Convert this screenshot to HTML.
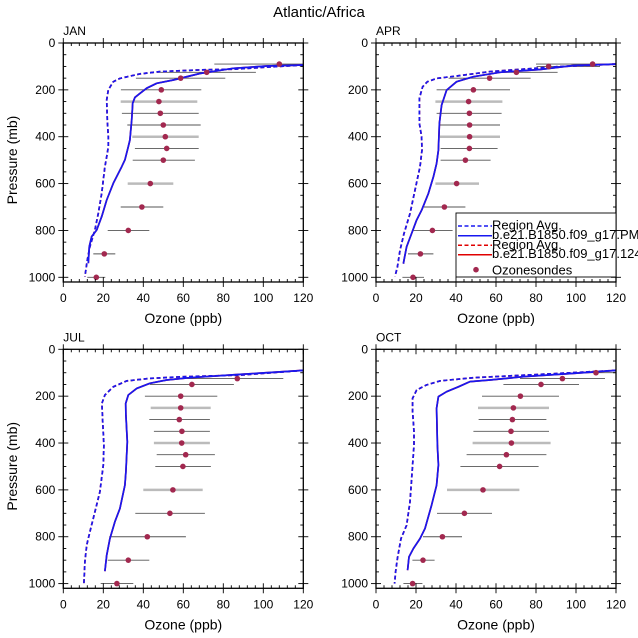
<!DOCTYPE html>
<html><head><meta charset="utf-8"><style>
body{margin:0;background:#fff}
svg{display:block;font-family:"Liberation Sans",sans-serif}
</style></head><body>
<svg id="c" width="638" height="638" viewBox="0 0 638 638">
<text x="319" y="17" text-anchor="middle" font-size="15">Atlantic/Africa</text>
</svg>
<script>
const months=["JAN","APR","JUL","OCT"];
const obsP=[[90,125,150,200,250,300,350,400,450,500,600,700,800,900,1000],[90,100,125,150,200,250,300,350,400,450,500,600,700,800,900,1000],[125,150,200,250,300,350,400,450,500,600,700,800,900,1000],[100,125,150,200,250,300,350,400,450,500,600,700,800,900,1000]];
const obsV=[[108,71.7,58.7,49,47.8,48.5,50,51,51.7,50,43.5,39.3,32.5,20.5,16.5],[108.3,86.3,70.2,56.8,48.7,46.3,46.7,46.8,46.8,46.7,44.7,40.3,34.2,28.2,22.2,18.5],[87,64.3,58.7,58.7,58,59.3,59.2,61.2,59.8,54.8,53.3,42,32.5,26.8],[110,93.2,82.5,72.2,68.7,68.2,67.5,67.7,65.2,61.8,53.5,44.2,33.2,23.5,18.3]];
const obsLo=[[75.5,47,36.3,28.8,28.7,29.3,32,34.5,35.8,34.7,32.2,28.7,22.2,15,12],[80,80.3,62,36.3,30.3,29.7,30.3,32,32,32.3,32.3,29.7,24,18.3,16,13.2],[62,43.3,40.8,43.7,43,45.3,45.3,46.7,46,40,36,23,22.2,18.7],[98.7,72,63.7,53,51,51.3,48.7,48.3,45.3,42.2,35.5,30.5,23.5,18.2,13.7]];
const obsHi=[[120,96.3,81,69,67,67.7,68.7,67.7,67.7,65.8,55,50,43,26,21],[120,112,90.8,77.3,67,63.2,62.8,62,62,60.8,57.3,51.5,44.7,38.3,28.7,24],[110,85.3,77,73.7,73.3,73.3,73.3,75.8,73.8,69.7,70.8,61.3,43,35],[120,114.5,101.5,91.5,86.5,85.2,86.5,87.3,85.2,81.3,71.7,58,43,29.3,23.2]];
const solidP=[[94,98,108,130,158,172,193,215,232,257,329,414,442,499,528,599,670,741,798,826,869,940],[90,96,113,125,144,165,201,265,343,457,514,571,642,714,756,813,870,927,942],[90,107,121,131,145,167,195,231,281,395,523,580,680,736,808,879,947],[90,103,117,131,138,160,181,202,252,409,494,580,665,765,808,850,886,943]];
const solidV=[[120,101.7,85,68.3,55,46.7,41.7,38.3,35.8,34.7,34.2,33.3,32.5,30.8,29.2,25,21.7,19.2,16.7,14.2,13,12.5],[120,98.7,82,62,48.7,40.3,35.3,32.8,31.7,31.2,30.3,28.7,26.2,22.8,20.3,17.8,15.3,14,13.7],[120,88.3,63.3,51.7,43.3,36.7,32.5,31.2,31.3,32,31.3,30.8,28.3,25.8,23.3,21.7,20.8],[120,98.7,73.7,57,47,41.2,35.3,31.2,30.3,30.7,31.2,30.3,27.8,24.5,22,18.7,16.5,15.8]];
const dashP=[[94,112,115,122,132,151,165,200,243,329,400,442,471,528,641,727,798,869,926,997],[90,101,122,141,151,165,187,236,343,400,457,528,628,728,813,885,956,996],[90,110,117,124,135,160,195,231,309,409,494,608,694,779,836,907,1000],[90,107,121,135,152,174,209,266,352,409,651,751,808,893,950,1000]];
const dashV=[[120,85,68.3,48.3,38.3,28.3,25,22.5,21.7,22,22.5,22.5,22,20.8,19.2,17.5,15.8,13.3,12,10.8],[120,90.3,57,40.3,30.3,25.7,23.3,21.7,21.7,22.8,23,22,19.5,17,14,12,10.7,9.5],[120,88.3,60,43.3,31.7,25,20.8,19.3,19.7,20.3,20,18.3,15.8,13.3,11.7,10.8,10.3],[120,82,48.7,32,25.3,20.3,18.3,18.3,19,19,17,15.3,12.5,10.7,9.8,9.3]];
const xTicks=[0,20,40,60,80,100,120];
const yTicks=[0,200,400,600,800,1000];
const grayP=[250,400,600];
const NS="http://www.w3.org/2000/svg";
const svg=document.getElementById('c');
function mk(t,a,p){const e=document.createElementNS(NS,t);for(const k in a)e.setAttribute(k,a[k]);(p||svg).appendChild(e);return e;}
const origins=[[63.3,43],[376,43],[63.3,349.3],[376,349.3]];
const W=240,H=234.3;
months.forEach((m,i)=>{
  const [ox,oy]=origins[i];
  const sx=v=>ox+v/120*W, sy=p=>oy+p/1000*H;
  const bottom=sy(1020);
  const g=mk('g',{});
  
  
  const cp=mk('clipPath',{id:'cl'+i},g);mk('rect',{x:ox,y:oy,width:W,height:bottom-oy},cp);
  const t=mk('text',{x:ox,y:oy-8,'font-size':12},g);t.textContent=m;
  
  obsP[i].forEach((p,j)=>{
    const gray=grayP.includes(p);
    const l=mk('line',{x1:sx(obsLo[i][j]),x2:sx(obsHi[i][j]),y1:sy(p),y2:sy(p),stroke:gray?'#bbb':'#555','stroke-width':gray?2.5:0.9,'clip-path':'url(#cl'+i+')'},g);
    
  });
  const path=(P,V)=>P.map((p,k)=>(k?'L':'M')+sx(V[k]).toFixed(1)+','+sy(p).toFixed(1)).join('');
  [['#e00000','4,2.5',dashP,dashV,'red-dashed-line'],['#e00000','',solidP,solidV,'red-solid-line'],['#1818f0','4,2.5',dashP,dashV,'blue-dashed-line'],['#1818f0','',solidP,solidV,'blue-solid-line']].forEach(s=>{
    const e=mk('path',{d:path(s[2][i],s[3][i]),fill:'none',stroke:s[0],'stroke-width':1.7,'stroke-linejoin':'round','stroke-dasharray':s[1],'clip-path':'url(#cl'+i+')'},g);
    
  });
  obsP[i].forEach((p,j)=>{
    const c=mk('circle',{cx:sx(obsV[i][j]),cy:sy(p),r:2.8,fill:'#a2284f'},g);
    
  });
  const fr=mk('rect',{x:ox,y:oy,width:W,height:bottom-oy,fill:'none',stroke:'#000','stroke-width':1.3},g);
  
  for(let v=0;v<=120;v+=4){const maj=v%20===0;const x=sx(v);
    mk('line',{x1:x,x2:x,y1:bottom-(maj?5:3),y2:bottom+(maj?5:0),stroke:'#000','stroke-width':0.9},g);
    mk('line',{x1:x,x2:x,y1:oy+(maj?5:3),y2:oy-(maj?5:0),stroke:'#000','stroke-width':0.9},g);}
  xTicks.forEach(v=>{const e=mk('text',{x:sx(v),y:bottom+20,'font-size':12,'text-anchor':'middle'},g);e.textContent=v;
    });
  for(let p=0;p<=1000;p+=50){const maj=p%200===0;const y=sy(p);
    mk('line',{x1:ox-(maj?5:0),x2:ox+(maj?5:3),y1:y,y2:y,stroke:'#000','stroke-width':0.9},g);
    mk('line',{x1:ox+W+(maj?5:0),x2:ox+W-(maj?5:3),y1:y,y2:y,stroke:'#000','stroke-width':0.9},g);}
  yTicks.forEach(p=>{const e=mk('text',{x:ox-8,y:sy(p)+4,'font-size':12,'text-anchor':'end'},g);e.textContent=p;
    });
  const xt=mk('text',{x:ox+W/2,y:bottom+41,'font-size':14,'text-anchor':'middle'},g);xt.textContent='Ozone (ppb)';
  
  if(i%2===0){const yt=mk('text',{x:0,y:0,'font-size':14,'text-anchor':'middle',transform:`translate(17,${oy+117}) rotate(-90)`},g);yt.textContent='Pressure (mb)';
    }
});
const lg=mk('g',{});


mk('rect',{x:456,y:213,width:160,height:64,fill:'#fff',stroke:'#000','stroke-width':0.9},lg);
const items=[['#1818f0','4,2.5','Region Avg.',225],['#1818f0','','b.e21.B1850.f09_g17.PMI',234.7],['#e00000','4,2.5','Region Avg.',244.3],['#e00000','','b.e21.B1850.f09_g17.124l',253.7]];
items.forEach(it=>{
  const l=mk('line',{x1:458,x2:492,y1:it[3]+1,y2:it[3]+1,stroke:it[0],'stroke-width':1.5,'stroke-dasharray':it[1]},lg);
  
  const t=mk('text',{x:492,y:it[3]+4.5,'font-size':13},lg);t.textContent=it[2];
  
});
const lc=mk('circle',{cx:476,cy:269.7,r:2.8,fill:'#a2284f'},lg);

const lt=mk('text',{x:492,y:274.5,'font-size':13},lg);lt.textContent='Ozonesondes';

</script>
</body></html>
